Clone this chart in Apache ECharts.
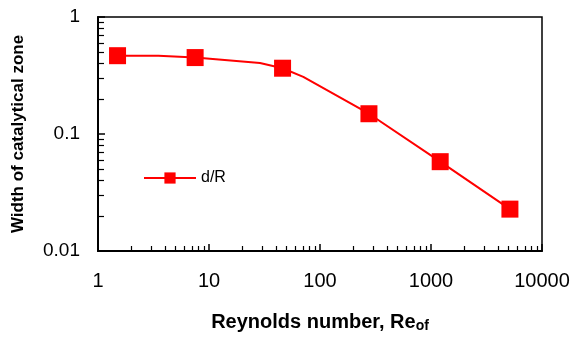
<!DOCTYPE html>
<html>
<head>
<meta charset="utf-8">
<script src="https://cdn.jsdelivr.net/npm/echarts@6/dist/echarts.min.js"></script>
<style>
html,body{margin:0;padding:0;background:#fff;}
#chart{width:581px;height:338px;}
</style>
</head>
<body>
<div id="chart"></div>
<script>
// Measured points (markers)
var reynolds = [1.5, 7.5, 46, 276, 1210, 5140];
var widthRatio = [0.467, 0.45, 0.365, 0.149, 0.058, 0.0228];
// Vertices of the drawn curve
var curveRe = [1.5, 3.5, 7.5, 28.8, 46, 70.7, 276, 1210, 5140];
var curveWidth = [0.467, 0.466, 0.45, 0.405, 0.365, 0.308, 0.149, 0.058, 0.0228];
var xTicks = [1, 10, 100, 1000, 10000];
var yTicks = [0.01, 0.1, 1];
var seriesName = 'd/R';

var FONT = 'Liberation Sans, Arial, sans-serif';
var RED = '#ff0000';

function isMarker(x, y) {
  for (var i = 0; i < reynolds.length; i++) {
    if (reynolds[i] === x && widthRatio[i] === y) return true;
  }
  return false;
}
var curveData = curveRe.map(function (x, i) {
  var y = curveWidth[i];
  return isMarker(x, y) ? { value: [x, y] } : { value: [x, y], symbol: 'none' };
});

var chart = echarts.init(document.getElementById('chart'), null, { renderer: 'canvas' });
chart.setOption({
  animation: false,
  backgroundColor: '#ffffff',
  grid: {
    left: 98, right: 39, top: 17, bottom: 85,
    show: true, borderColor: '#000', borderWidth: 1.5, backgroundColor: 'transparent'
  },
  legend: {
    data: [seriesName],
    left: 138, top: 165,
    itemWidth: 52, itemHeight: 14,
    itemGap: 5,
    textStyle: { fontFamily: FONT, fontSize: 16, color: '#000' }
  },
  xAxis: {
    type: 'log', logBase: 10, min: xTicks[0], max: xTicks[xTicks.length - 1],
    name: '{main|Reynolds number, Re}{sub|of}',
    nameLocation: 'middle', nameGap: 60,
    nameTextStyle: {
      rich: {
        main: { fontFamily: FONT, fontSize: 20, fontWeight: 'bold', color: '#000' },
        sub: { fontFamily: FONT, fontSize: 14, fontWeight: 'bold', color: '#000', padding: [8, 0, 0, 0] }
      }
    },
    axisLine: { show: true, onZero: false, lineStyle: { color: '#000', width: 2 } },
    axisTick: { show: true, inside: true, length: 7, lineStyle: { color: '#000', width: 1.5 } },
    minorTick: { show: true, splitNumber: 9, length: 5, lineStyle: { color: '#000', width: 1.2 } },
    splitLine: { show: false },
    axisLabel: {
      fontFamily: FONT, fontSize: 20, color: '#000', margin: 20,
      formatter: function (v) { return String(v); }
    }
  },
  yAxis: {
    type: 'log', logBase: 10, min: yTicks[0], max: yTicks[yTicks.length - 1],
    name: 'Width of catalytical zone',
    nameLocation: 'middle', nameGap: 71,
    nameTextStyle: { fontFamily: FONT, fontSize: 17, fontWeight: 'bold', color: '#000' },
    axisLine: { show: true, onZero: false, lineStyle: { color: '#000', width: 2 } },
    axisTick: { show: true, inside: true, length: 7, lineStyle: { color: '#000', width: 1.5 } },
    minorTick: { show: true, splitNumber: 9, length: 6, lineStyle: { color: '#000', width: 1.2 } },
    splitLine: { show: false },
    axisLabel: {
      fontFamily: FONT, fontSize: 19, color: '#000', margin: 18,
      formatter: function (v) { return String(v); }
    }
  },
  series: [{
    name: seriesName,
    type: 'line',
    data: curveData,
    symbol: 'rect',
    symbolSize: 17,
    showSymbol: true,
    lineStyle: { color: RED, width: 2 },
    itemStyle: { color: RED },
    z: 5
  }]
});
</script>
</body>
</html>
